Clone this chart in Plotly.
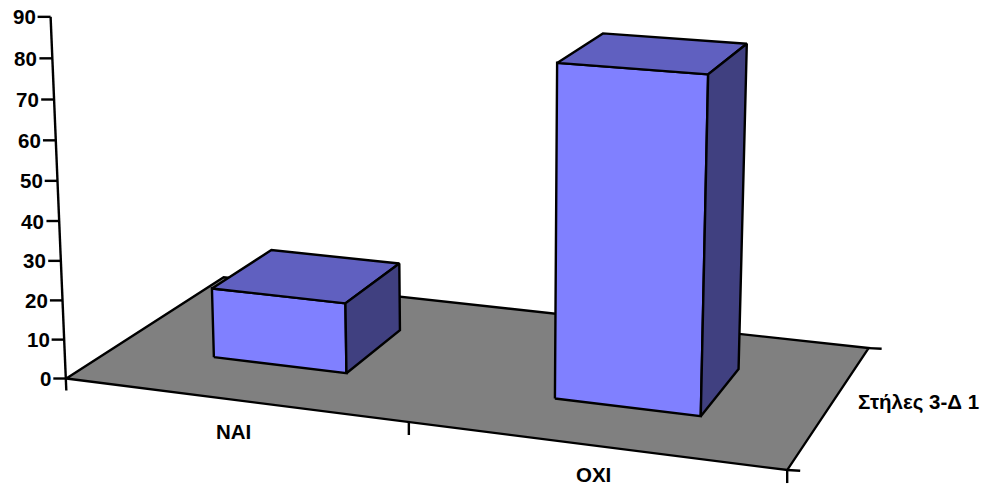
import numpy as np
import plotly.graph_objects as go

# Chart data
categories = ["NAI", "OXI"]
values = [18, 82]
series_name = "Στήλες 3-Δ 1"
value_ticks = [0, 10, 20, 30, 40, 50, 60, 70, 80, 90]

WIDTH, HEIGHT = 984, 489
VALUE_MAX = 90
GAP_SHARE = 0.3          # empty share on each side of a bar, along and across the floor
FRONT_DEPTH, BACK_DEPTH = 0.3, 0.7
LINE = 2.4

# Perspective camera used for the 3-D column look
EYE = np.array([2.6451, -7.238, 2.0882])
TARGET = np.array([0.0043, 0.0681, 0.099])
UP = np.array([22.6947, 44.4055, 46571.2411])
ASPECT = np.array([2.2951, 1.1362, 1.1489])
FOCAL = 2560.443
PRINCIPAL = (482.77, 152.57)

view = (TARGET - EYE) / np.linalg.norm(TARGET - EYE)
side = np.cross(view, UP)
side /= np.linalg.norm(side)
upward = np.cross(side, view)


def project(cat, depth, value):
    """Map (category position, floor depth, value) to plot coordinates."""
    world = np.array([
        (cat / len(categories) - 0.5) * ASPECT[0],
        (depth - 0.5) * ASPECT[1],
        (value / VALUE_MAX - 0.5) * ASPECT[2],
    ])
    d = world - EYE
    dist = d @ view
    return (PRINCIPAL[0] + FOCAL * (d @ side) / dist,
            PRINCIPAL[1] - FOCAL * (d @ upward) / dist)


fig = go.Figure()


def polygon(corners, fill=None, width=LINE):
    pts = [project(*c) for c in corners]
    xs = [p[0] for p in pts]
    ys = [p[1] for p in pts]
    fig.add_trace(go.Scatter(
        x=xs, y=ys, mode="lines",
        fill="toself" if fill else "none",
        fillcolor=fill,
        line=dict(color="black", width=width),
        hoverinfo="skip", showlegend=False,
    ))


def segment(x0, y0, x1, y1, width=LINE):
    fig.add_trace(go.Scatter(
        x=[x0, x1], y=[y0, y1], mode="lines",
        line=dict(color="black", width=width),
        hoverinfo="skip", showlegend=False,
    ))


n = len(categories)

# Value axis with its ticks
bottom = project(0, 0, 0)
top = project(0, 0, VALUE_MAX)
segment(bottom[0], bottom[1] + 12, top[0], top[1])
for v in value_ticks:
    px, py = project(0, 0, v)
    segment(px - 13, py, px, py)
    fig.add_annotation(x=px - 13, y=py, text=f"<b>{v}</b>", showarrow=False,
                       xanchor="right", yanchor="middle")

# Floor
polygon([(0, 0, 0), (n, 0, 0), (n, 1, 0), (0, 1, 0), (0, 0, 0)], fill="#808080")

# Category ticks below the front edge, depth ticks to the right of the floor
for c in range(1, n + 1):
    px, py = project(c, 0, 0)
    segment(px, py, px, py + 13)
for d in (0, 1):
    px, py = project(n, d, 0)
    segment(px, py, px + 13, py + 0.7)

# Columns: front, top and right faces
for i, val in enumerate(values):
    x0, x1 = i + GAP_SHARE, i + 1 - GAP_SHARE
    f, b = FRONT_DEPTH, BACK_DEPTH
    polygon([(x0, f, 0), (x1, f, 0), (x1, f, val), (x0, f, val), (x0, f, 0)], fill="#8080FF")
    polygon([(x0, f, val), (x1, f, val), (x1, b, val), (x0, b, val), (x0, f, val)], fill="#6060C0")
    polygon([(x1, f, 0), (x1, b, 0), (x1, b, val), (x1, f, val), (x1, f, 0)], fill="#404080")

# Category and series labels
for i, name in enumerate(categories):
    px, py = project(i + 0.5, 0, 0)
    fig.add_annotation(x=px, y=py + (32 if i == 0 else 29), text=f"<b>{name}</b>",
                       showarrow=False, xanchor="center", yanchor="middle")
px, py = project(n, 0.5, 0)
fig.add_annotation(x=px + 25, y=py - 3, text=f"<b>{series_name}</b>", showarrow=False,
                   xanchor="left", yanchor="middle")

fig.update_layout(
    width=WIDTH, height=HEIGHT,
    margin=dict(l=0, r=0, t=0, b=0),
    paper_bgcolor="white", plot_bgcolor="white",
    font=dict(family="Liberation Sans", size=20.5, color="black"),
    xaxis=dict(range=[0, WIDTH], visible=False, fixedrange=True),
    yaxis=dict(range=[HEIGHT, 0], visible=False, fixedrange=True),
    showlegend=False,
)

fig.write_html("out.html")
